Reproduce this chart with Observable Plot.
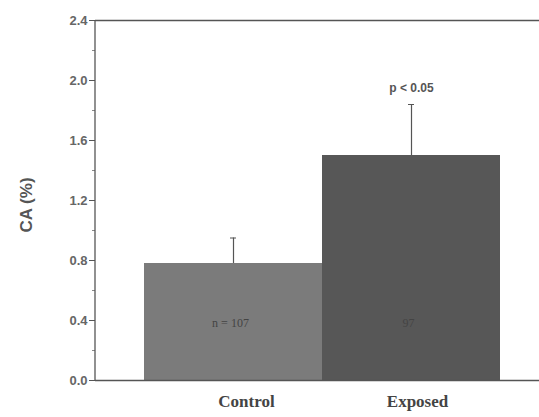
<!DOCTYPE html>
<html><head><meta charset="utf-8">
<script src="https://cdn.jsdelivr.net/npm/d3@7"></script>
<script src="https://cdn.jsdelivr.net/npm/@observablehq/plot@0.6"></script>
<style>body{margin:0;background:#fff;} svg{display:block;}</style>
</head><body><div id="chart"></div>
<script>
const groups = ["Control", "Exposed"];
const means = [0.78, 1.5];
const errTop = [0.95, 1.84];
const nLabels = ["n = 107", "97"];
const yTicks = [0, 0.4, 0.8, 1.2, 1.6, 2.0, 2.4];
const yMinor = [0.2, 0.6, 1.0, 1.4, 1.8, 2.2];
const pLabel = "p < 0.05";
const colors = ["#7b7b7b", "#575757"];

const data = groups.map((g, i) => ({g, mean: means[i], err: errTop[i], n: nLabels[i], c: colors[i]}));
const labelStyle = {x: "g", y: 0, text: "g", dy: 21, fontSize: 17, fontWeight: "bold", fontFamily: "Liberation Serif, Times New Roman, serif", fill: "#444"};

const plot = Plot.plot({
  width: 539, height: 417,
  marginLeft: 95, marginRight: 0, marginTop: 20, marginBottom: 37,
  style: {fontFamily: "Liberation Sans, Arial, sans-serif", background: "#fff"},
  x: {domain: groups, range: [143, 500], padding: 0, axis: null},
  y: {domain: [0, 2.4], axis: null},
  marks: [
    Plot.barY(data, {x: "g", y: "mean", fill: "c"}),
    Plot.ruleX(data, {x: "g", y1: "mean", y2: "err", stroke: "#555", strokeWidth: 1.2}),
    Plot.tickY(data, {x: "g", y: "err", stroke: "#555", insetLeft: 86, insetRight: 86}),
    Plot.text(data, {x: "g", y: 0.38, text: "n", fill: "#444", fontSize: 12, fontFamily: "Liberation Serif, Times New Roman, serif", dx: -3}),
    Plot.text([pLabel], {x: () => "Exposed", y: 1.95, text: d => d, fontSize: 12, fontWeight: "bold", fill: "#555"}),
    Plot.ruleY([0, 2.4], {stroke: "#555", strokeWidth: 1.3}),
    Plot.axisY(yTicks, {tickFormat: d3.format(".1f"), tickSize: 6, tickPadding: 2, fontSize: 13, fontWeight: "bold", fill: "#666", stroke: "#555", label: null}),
    Plot.axisY(yMinor, {tickFormat: () => "", tickSize: 3, stroke: "#888", label: null}),
    Plot.text(data.slice(0, 1), {...labelStyle, dx: 13}),
    Plot.text(data.slice(1, 2), {...labelStyle, dx: 6})
  ]
});
const svg = d3.select(plot);
svg.append("line").attr("x1", 95).attr("x2", 95).attr("y1", 20).attr("y2", 380).attr("stroke", "#555").attr("stroke-width", 1.3);
svg.append("text").attr("transform", "translate(32,205) rotate(-90)").attr("text-anchor", "middle")
  .attr("font-size", 17).attr("font-weight", "bold").attr("fill", "#555")
  .attr("font-family", "Liberation Sans, Arial, sans-serif").text("CA (%)");
document.getElementById("chart").append(plot);
</script></body></html>
